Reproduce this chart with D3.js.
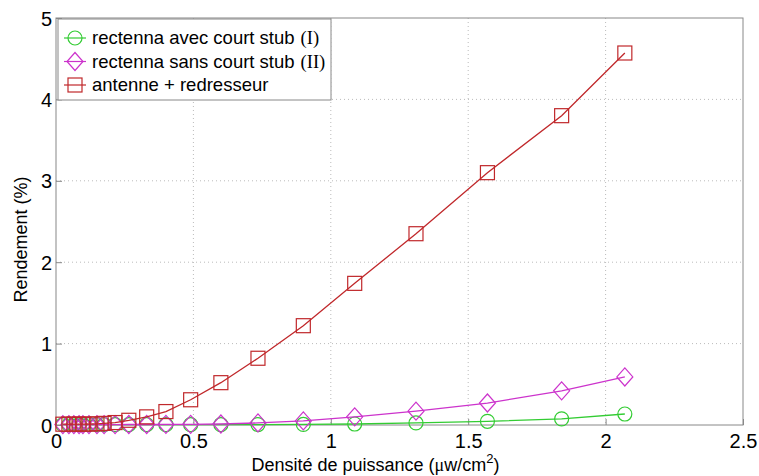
<!DOCTYPE html>
<html>
<head>
<meta charset="utf-8">
<script src="https://cdn.jsdelivr.net/npm/d3@7"></script>
<style>
  body { margin: 0; background: #fff; }
  text { font-family: "Liberation Sans", Arial, sans-serif; }
</style>
</head>
<body>
<svg id="chart" width="759" height="476"></svg>
<script>
// densité de puissance (µW/cm2)
const densite = [0.025, 0.047, 0.065, 0.084, 0.098, 0.12, 0.149, 0.175, 0.215, 0.265, 0.33, 0.40, 0.49, 0.60, 0.735, 0.90, 1.087, 1.31, 1.57, 1.84, 2.07]
// rendement (%)
const avecStub = [0.004, 0.004, 0.004, 0.004, 0.004, 0.004, 0.004, 0.004, 0.004, 0.004, 0.004, 0.004, 0.004, 0.004, 0.005, 0.007, 0.012, 0.025, 0.045, 0.075, 0.135]
const sansStub = [0.005, 0.005, 0.005, 0.005, 0.005, 0.005, 0.005, 0.005, 0.005, 0.006, 0.006, 0.007, 0.008, 0.012, 0.025, 0.05, 0.1, 0.17, 0.27, 0.42, 0.59]
const antenne = [0.01, 0.01, 0.01, 0.01, 0.01, 0.012, 0.014, 0.02, 0.03, 0.058, 0.1, 0.165, 0.31, 0.52, 0.82, 1.22, 1.74, 2.35, 3.1, 3.8, 4.57]
const xTicks = [0, 0.5, 1, 1.5, 2, 2.5]
const yTicks = [0, 1, 2, 3, 4, 5]

const series = [
    { name: "rectenna avec court stub", tag: "(I)", values: avecStub, color: "#33cc33", marker: "circle" },
    { name: "rectenna sans court stub", tag: "(II)", values: sansStub, color: "#cc33cc", marker: "diamond" },
    { name: "antenne + redresseur", tag: "", values: antenne, color: "#c0282b", marker: "square" },
]

const svg = d3.select("#chart")
const margin = { top: 18, right: 16, bottom: 51, left: 56 }
const width = +svg.attr("width") - margin.left - margin.right
const height = +svg.attr("height") - margin.top - margin.bottom

const x = d3.scaleLinear().domain([0, 2.5]).range([0, width])
const y = d3.scaleLinear().domain([0, 5]).range([height, 0])

const g = svg.append("g").attr("transform", "translate(" + margin.left + "," + margin.top + ")")

// grid
g.append("g").selectAll("line").data(xTicks.slice(1, -1)).enter().append("line")
    .attr("x1", d => x(d)).attr("x2", d => x(d))
    .attr("y1", 0).attr("y2", height)
    .attr("stroke", "#bbb").attr("stroke-dasharray", "1,3")
g.append("g").selectAll("line").data(yTicks.slice(1, -1)).enter().append("line")
    .attr("x1", 0).attr("x2", width)
    .attr("y1", d => y(d)).attr("y2", d => y(d))
    .attr("stroke", "#bbb").attr("stroke-dasharray", "1,3")

// frame
g.append("rect").attr("width", width).attr("height", height)
    .attr("fill", "none").attr("stroke", "#888").attr("stroke-width", 1)

const xAxis = g.append("g").attr("transform", "translate(0," + height + ")")
    .call(d3.axisBottom(x).tickValues(xTicks).tickFormat(d3.format("")).tickSize(-6).tickPadding(5))
const yAxis = g.append("g")
    .call(d3.axisLeft(y).tickValues(yTicks).tickFormat(d3.format("")).tickSize(-6).tickPadding(4))
for (const ax of [xAxis, yAxis]) {
    ax.select(".domain").remove()
    ax.selectAll(".tick line").attr("stroke", "#888")
    ax.selectAll(".tick text").attr("fill", "#000").style("font-size", "20px")
        .style("font-family", '"Liberation Sans", Arial, sans-serif')
}
// matlab style: the 0 labels sit slightly apart
xAxis.selectAll(".tick text").attr("dy", "0.9em")
yAxis.selectAll(".tick text").attr("dy", "0.35em")

const line = d3.line().x(d => x(d[0])).y(d => y(d[1]))

function drawMarker(sel, kind, color) {
    if (kind === "circle") {
        sel.append("circle").attr("r", 7)
    } else if (kind === "diamond") {
        sel.append("path").attr("d", "M0,-9L8,0L0,9L-8,0Z")
    } else {
        sel.append("rect").attr("x", -7).attr("y", -7).attr("width", 14).attr("height", 14)
    }
    sel.selectAll("*").attr("fill", "none").attr("stroke", color).attr("stroke-width", 1.2)
}

series.forEach(s => {
    const pts = densite.map((d, i) => [d, s.values[i]])
    g.append("path").datum(pts).attr("d", line)
        .attr("fill", "none").attr("stroke", s.color).attr("stroke-width", 1.3)
    g.append("g").selectAll("g").data(pts).enter().append("g")
        .attr("transform", d => "translate(" + x(d[0]) + "," + y(d[1]) + ")")
        .each(function () { drawMarker(d3.select(this), s.marker, s.color) })
})

// axis labels
svg.append("text")
    .attr("x", margin.left + width / 2 - 24).attr("y", 471)
    .attr("text-anchor", "middle").style("font-size", "18px")
    .html('Densité de puissance (<tspan style="font-family:\'Liberation Serif\',serif">μ</tspan>w/cm<tspan dy="-8" style="font-size:13px">2</tspan><tspan dy="8">)</tspan>')
svg.append("text")
    .attr("transform", "translate(27," + (margin.top + height / 2 + 18) + ") rotate(-90)")
    .attr("text-anchor", "middle").style("font-size", "18px")
    .text("Rendement (%)")

// legend
const legend = g.append("g").attr("transform", "translate(2,1)")
legend.append("rect").attr("width", 273).attr("height", 81)
    .attr("fill", "#fff").attr("stroke", "#888")
series.forEach((s, i) => {
    const row = legend.append("g").attr("transform", "translate(0," + (19 + i * 23.5) + ")")
    row.append("line").attr("x1", 6).attr("x2", 28).attr("stroke", s.color).attr("stroke-width", 1.2)
    const m = row.append("g").attr("transform", "translate(17,0)")
    drawMarker(m, s.marker, s.color)
    const t = row.append("text").attr("x", 34).attr("dy", "0.35em").style("font-size", "18.5px").text(s.name)
    if (s.tag) {
        t.append("tspan").attr("dx", 6).style("font-family", '"Liberation Serif", serif').text(s.tag)
    }
})
</script>
</body>
</html>
